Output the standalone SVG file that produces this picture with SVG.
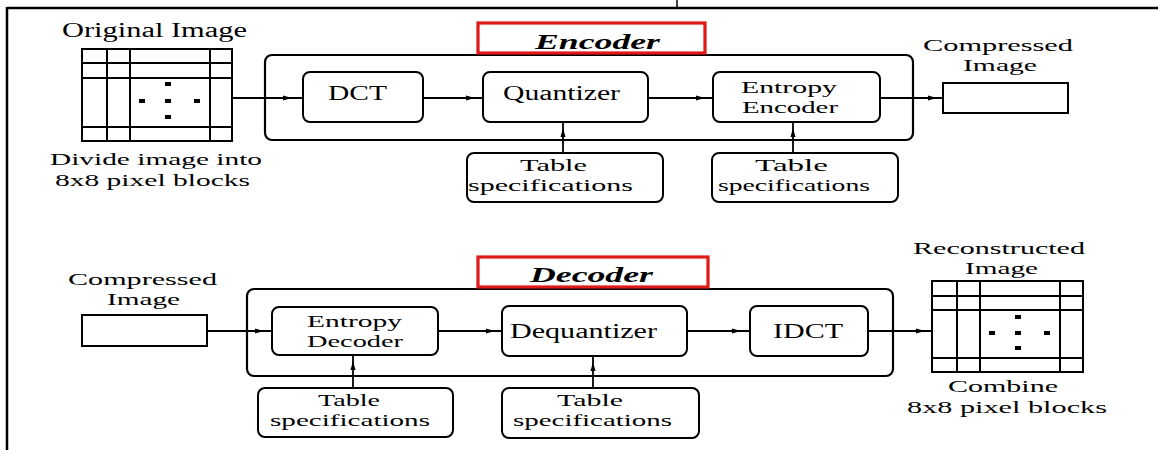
<svg xmlns="http://www.w3.org/2000/svg" width="1158" height="450" viewBox="0 0 1158 450">
<style>
.t{font-family:"Liberation Serif","DejaVu Serif","Noto Serif","Times New Roman",Times,serif;font-size:20px;fill:#000}
.s{font-family:"Liberation Serif","DejaVu Serif","Noto Serif","Times New Roman",Times,serif;font-size:17px;fill:#000}
.h{font-family:"Liberation Serif","DejaVu Serif","Noto Serif","Times New Roman",Times,serif;font-size:21px;font-weight:bold;font-style:italic;fill:#000}
.box{fill:#fff;stroke:#000;stroke-width:2}
.outer{fill:none;stroke:#000;stroke-width:2.2}
.red{fill:#fff;stroke:#e01818;stroke-width:3.2}
.g{fill:none;stroke:#000;stroke-width:2}
.frame{stroke:#000;stroke-width:2.5}
.c{fill:none;stroke:#000;stroke-width:1.8;marker-mid:url(#ah)}
</style>
<defs>
<marker id="ah" viewBox="0 0 9 6" refX="9" refY="3" markerWidth="9" markerHeight="6" markerUnits="userSpaceOnUse" orient="auto">
<path d="M0,0.5 L9,3 L0,5.5 z" fill="#000"/>
</marker>
</defs>
<rect width="1158" height="450" fill="#fff"/>
<g id="frame">
<line class="frame" x1="7" y1="8" x2="1158" y2="8"/>
<line class="frame" x1="7" y1="7" x2="7" y2="450"/>
<line x1="677" y1="0" x2="677" y2="8" stroke="#000" stroke-width="1.5"/>
</g>

<g id="encoder-frame">
<rect class="outer" x="265" y="55" width="648" height="85" rx="7"/>
<rect class="red" x="478" y="23" width="227" height="30"/>
<text class="h" x="535" y="49" textLength="125" lengthAdjust="spacingAndGlyphs">Encoder</text>
</g>

<g id="original-image">
<text class="t" x="62" y="37" textLength="185" lengthAdjust="spacingAndGlyphs">Original Image</text>
<rect class="g" x="82" y="49" width="150" height="92"/>
<path class="g" d="M107,49V141M130,49V141M210,49V141M82,63H232M82,78H232M82,127H232"/>
<g fill="#000">
<rect x="165" y="82" width="6" height="4"/><rect x="139" y="99" width="6" height="4"/><rect x="165" y="99" width="6" height="4"/><rect x="194" y="99" width="6" height="4"/><rect x="165" y="115" width="6" height="4"/>
</g>
<text class="s" x="50" y="165" textLength="212" lengthAdjust="spacingAndGlyphs">Divide image into</text>
<text class="s" x="55" y="186" textLength="195" lengthAdjust="spacingAndGlyphs">8x8 pixel blocks</text>
</g>

<g id="dct">
<rect class="box" x="303" y="72" width="120" height="50" rx="7"/>
<text class="t" x="328" y="100" textLength="59" lengthAdjust="spacingAndGlyphs">DCT</text>
</g>
<g id="quantizer">
<rect class="box" x="483" y="72" width="165" height="50" rx="7"/>
<text class="t" x="503" y="100" textLength="117" lengthAdjust="spacingAndGlyphs">Quantizer</text>
</g>
<g id="entropy-encoder">
<rect class="box" x="713" y="72" width="167" height="50" rx="7"/>
<text class="s" x="741" y="93" textLength="96" lengthAdjust="spacingAndGlyphs">Entropy</text>
<text class="s" x="742" y="113" textLength="96" lengthAdjust="spacingAndGlyphs">Encoder</text>
</g>
<g id="table-enc-1">
<rect class="box" x="467" y="153" width="196" height="49" rx="7"/>
<text class="s" x="520" y="171" textLength="67" lengthAdjust="spacingAndGlyphs">Table</text>
<text class="s" x="468" y="191" textLength="165" lengthAdjust="spacingAndGlyphs">specifications</text>
</g>
<g id="table-enc-2">
<rect class="box" x="712" y="153" width="186" height="49" rx="7"/>
<text class="s" x="755" y="171" textLength="73" lengthAdjust="spacingAndGlyphs">Table</text>
<text class="s" x="718" y="191" textLength="152" lengthAdjust="spacingAndGlyphs">specifications</text>
</g>
<g id="compressed-out">
<text class="s" x="923" y="51" textLength="150" lengthAdjust="spacingAndGlyphs">Compressed</text>
<text class="s" x="963" y="71" textLength="74" lengthAdjust="spacingAndGlyphs">Image</text>
<rect class="box" x="943" y="83" width="125" height="30"/>
</g>

<g id="decoder-frame">
<rect class="outer" x="247" y="289" width="646" height="87" rx="7"/>
<rect class="red" x="478" y="257" width="230" height="30"/>
<text class="h" x="530" y="282" textLength="123" lengthAdjust="spacingAndGlyphs">Decoder</text>
</g>
<g id="compressed-in">
<text class="s" x="68" y="285" textLength="149" lengthAdjust="spacingAndGlyphs">Compressed</text>
<text class="s" x="107" y="305" textLength="73" lengthAdjust="spacingAndGlyphs">Image</text>
<rect class="box" x="82" y="315" width="125" height="31"/>
</g>
<g id="entropy-decoder">
<rect class="box" x="272" y="307" width="166" height="48" rx="7"/>
<text class="s" x="307" y="327" textLength="95" lengthAdjust="spacingAndGlyphs">Entropy</text>
<text class="s" x="307" y="347" textLength="96" lengthAdjust="spacingAndGlyphs">Decoder</text>
</g>
<g id="dequantizer">
<rect class="box" x="502" y="306" width="185" height="50" rx="7"/>
<text class="t" x="510" y="338" textLength="147" lengthAdjust="spacingAndGlyphs">Dequantizer</text>
</g>
<g id="idct">
<rect class="box" x="750" y="306" width="118" height="50" rx="7"/>
<text class="t" x="773" y="338" textLength="70" lengthAdjust="spacingAndGlyphs">IDCT</text>
</g>
<g id="table-dec-1">
<rect class="box" x="258" y="388" width="195" height="49" rx="7"/>
<text class="s" x="318" y="406" textLength="62" lengthAdjust="spacingAndGlyphs">Table</text>
<text class="s" x="270" y="426" textLength="160" lengthAdjust="spacingAndGlyphs">specifications</text>
</g>
<g id="table-dec-2">
<rect class="box" x="502" y="388" width="197" height="50" rx="7"/>
<text class="s" x="557" y="406" textLength="66" lengthAdjust="spacingAndGlyphs">Table</text>
<text class="s" x="513" y="426" textLength="159" lengthAdjust="spacingAndGlyphs">specifications</text>
</g>
<g id="reconstructed-image">
<text class="s" x="913" y="254" textLength="172" lengthAdjust="spacingAndGlyphs">Reconstructed</text>
<text class="s" x="965" y="274" textLength="73" lengthAdjust="spacingAndGlyphs">Image</text>
<rect class="g" x="932" y="281" width="151" height="91"/>
<path class="g" d="M957,281V372M980,281V372M1060,281V372M932,296H1083M932,310H1083M932,358H1083"/>
<g fill="#000">
<rect x="1015" y="315" width="6" height="4"/><rect x="989" y="331" width="6" height="4"/><rect x="1015" y="331" width="6" height="4"/><rect x="1044" y="331" width="6" height="4"/><rect x="1015" y="346" width="6" height="4"/>
</g>
<text class="s" x="948" y="392" textLength="110" lengthAdjust="spacingAndGlyphs">Combine</text>
<text class="s" x="907" y="413" textLength="200" lengthAdjust="spacingAndGlyphs">8x8 pixel blocks</text>
</g>

<g id="connectors">
<path class="c" d="M232,98 L292,98 L303,98"/>
<path class="c" d="M423,98 L475,98 L483,98"/>
<path class="c" d="M648,98 L705,98 L713,98"/>
<path class="c" d="M880,98 L937,98 L943,98"/>
<path class="c" d="M563,153 L563,128 L563,122"/>
<path class="c" d="M793,153 L793,128 L793,122"/>
<path class="c" d="M207,331 L264,331 L272,331"/>
<path class="c" d="M438,331 L495,331 L502,331"/>
<path class="c" d="M687,331 L741,331 L750,331"/>
<path class="c" d="M868,331 L925,331 L932,331"/>
<path class="c" d="M353,388 L353,361 L353,355"/>
<path class="c" d="M593,388 L593,362 L593,356"/>
</g>
</svg>
